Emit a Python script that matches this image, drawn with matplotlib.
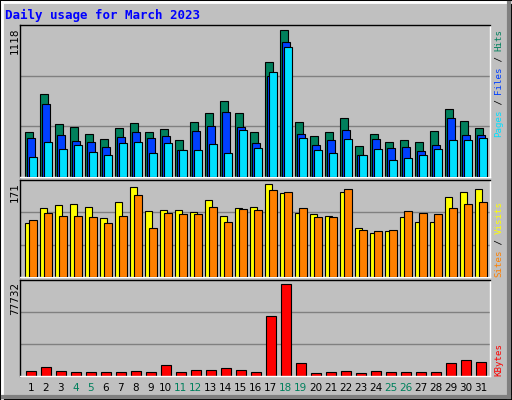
import matplotlib
matplotlib.use("Agg")
import matplotlib.pyplot as plt
from matplotlib.patches import Rectangle
from matplotlib.lines import Line2D

days = list(range(1, 32))
hits = [344,632,405,382,329,291,374,412,344,367,283,420,488,574,488,344,875,1118,420,314,344,450,238,329,268,283,268,352,518,427,374]
files = [298,556,321,276,268,230,306,344,298,314,207,352,389,496,382,260,769,1027,329,245,283,359,169,291,223,230,200,245,450,321,321]
pages = [154,268,215,245,192,169,260,268,185,260,207,207,253,185,359,223,799,989,298,207,185,291,169,215,132,147,169,215,283,283,298]
sites = [100,126,132,134,128,108,138,165,121,123,123,119,141,112,126,128,171,154,117,115,113,156,91,80,84,110,102,102,147,156,162]
visits = [104,117,113,113,110,99,113,151,91,117,115,115,128,102,125,123,160,156,126,110,110,162,87,84,87,121,117,115,126,134,138]
kbytes = [4270,7690,4270,3420,3420,3420,3420,4270,3420,9400,3420,5120,5120,6830,5120,3420,50400,77732,11100,2560,3420,4270,2560,4270,3420,3420,3420,3420,11100,13670,11960]
weekends = [4,5,11,12,18,19,25,26]
title = "Daily usage for March 2023"

W, H = 512, 400
BG = "#c0c0c0"
fig = plt.figure(figsize=(W/100, H/100), dpi=100, facecolor=BG)
MONO = "DejaVu Sans Mono"

def px_axes(x0, y0, x1, y1):
    return fig.add_axes([x0/W, 1-y1/H, (x1-x0)/W, (y1-y0)/H])

# figure bevel
fig.add_artist(Rectangle((0, 0), 1, 1, transform=fig.transFigure, fill=False, ec="black", lw=1.5))
fig.add_artist(Line2D([2/W, 2/W], [2/H, 1-2/H], transform=fig.transFigure, color="white", lw=2))
fig.add_artist(Line2D([2/W, 1-2/W], [1-2/H, 1-2/H], transform=fig.transFigure, color="white", lw=2))
fig.add_artist(Line2D([1-3/W, 1-3/W], [3/H, 1-3/H], transform=fig.transFigure, color="#808080", lw=3))
fig.add_artist(Line2D([3/W, 1-3/W], [3/H, 3/H], transform=fig.transFigure, color="#808080", lw=3))

xlim = (0.28, 0.28 + 470/15)

def style(ax, ytop):
    ax.set_facecolor(BG)
    ax.set_xlim(*xlim)
    ax.set_ylim(0, ytop)
    ax.set_xticks([]); ax.set_yticks([])
    for y in (1/3, 2/3):
        ax.axhline(ytop*y, color="#808080", lw=1, zorder=0)
    ax.spines["top"].set_color("black"); ax.spines["left"].set_color("black")
    ax.spines["bottom"].set_color("white"); ax.spines["right"].set_color("white")
    for s in ax.spines.values():
        s.set_linewidth(1)

ax1 = px_axes(20, 25, 490, 177)
style(ax1, max(hits)*152/147.4)
w = 0.5
ax1.bar([d-0.13 for d in days], hits, w, color="#00805c", ec="black", lw=0.8, zorder=2)
ax1.bar([d+0.0 for d in days], files, w, color="#0040ff", ec="black", lw=0.8, zorder=3)
ax1.bar([d+0.13 for d in days], pages, w, color="#00e0ff", ec="black", lw=0.8, zorder=4)

ax2 = px_axes(20, 180, 490, 277)
style(ax2, max(sites)*97/93)
ax2.bar([d-0.14 for d in days], sites, w, color="#ffff00", ec="black", lw=0.8, zorder=2)
ax2.bar([d+0.14 for d in days], visits, w, color="#ff8000", ec="black", lw=0.8, zorder=3)

ax3 = px_axes(20, 280, 490, 376)
style(ax3, max(kbytes)*96/92)
ax3.bar(days, kbytes, 0.7, color="#ff0000", ec="black", lw=0.8, zorder=2)

fig.text(5/W, 1-15/H, title, color="#0000ff", fontsize=9, fontweight="bold", family=MONO, va="center", ha="left")

def vtext(x, ybottom, pieces, fs=6.6, cw=5.35):
    n = 0
    for s, c in pieces:
        fig.text(x/W, 1-(ybottom - n*cw)/H, s, color=c, fontsize=fs, family=MONO,
                 rotation=90, rotation_mode="anchor", ha="left", va="center")
        n += len(s)

vtext(499, 137, [("Pages", "#00e0ff"), (" / ", "#000000"), ("Files", "#0040ff"), (" / ", "#000000"), ("Hits", "#00805c")])
vtext(499, 277, [("Sites", "#ff8000"), (" / ", "#000000"), ("Visits", "#ffff00")])
vtext(499, 376, [("KBytes", "#ff0000")])

def ltext(ytop, s):
    fig.text(15/W, 1-ytop/H, s, color="black", fontsize=7.5, rotation=90,
             rotation_mode="anchor", ha="right", va="center")
ltext(27, str(max(hits)))
ltext(182, str(max(sites)))
ltext(282, str(max(kbytes)))

for d in days:
    ax3.text(d, -0.12, str(d), transform=ax3.get_xaxis_transform(), ha="center", va="center",
             fontsize=7.5, color="#00805c" if d in weekends else "black")

fig.savefig("out.png", dpi=100, facecolor=BG)
